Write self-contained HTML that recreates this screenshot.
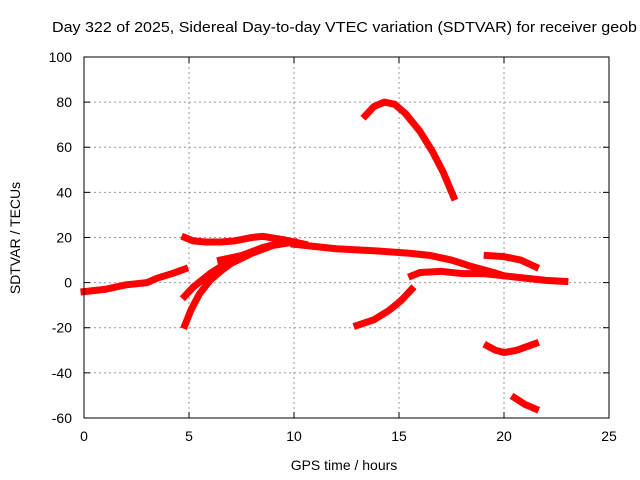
<!DOCTYPE html>
<html><head><meta charset="utf-8"><style>
body{margin:0;background:#fff}
svg{font-family:"Liberation Sans",sans-serif;display:block}
</style></head><body>
<svg id="chart" width="640" height="480">
<text x="52" y="32" font-size="15" textLength="585" lengthAdjust="spacingAndGlyphs">Day 322 of 2025, Sidereal Day-to-day VTEC variation (SDTVAR) for receiver geob</text>
<text x="344" y="470" font-size="14" text-anchor="middle">GPS time / hours</text>
<text x="20" y="238" font-size="14" text-anchor="middle" transform="rotate(-90 20 238)">SDTVAR / TECUs</text>
<g id="grid"></g><g id="series"></g>
<rect x="84" y="57" width="525" height="361" fill="none" stroke="#000" stroke-width="1"/>
</svg>
<script>
const xTicks=[0,5,10,15,20,25];
const yTicks=[-60,-40,-20,0,20,40,60,80,100];
const seg1=[[0,-4],[1,-3],[2,-1],[3,0],[3.5,2],[4.2,4],[4.8,6]];
const seg2=[[4.8,20],[5.2,18.5],[5.8,18],[6.5,18],[7.2,18.5],[8,20],[8.5,20.5],[9.5,19],[10.5,17]];
const seg3=[[10,17],[12,15],[14,14],[15.5,13],[16.5,12],[17.5,10],[18.5,7],[19.5,4.5],[20,3],[21,2],[22,1],[22.9,0.5]];
const seg4=[[4.8,-19],[5.1,-12],[5.5,-5],[6,1],[6.5,5],[7,8.5],[8,13],[9,16.5],[10,18]];
const seg5=[[4.8,-6],[5.2,-2],[5.6,1],[6,4],[6.5,7],[7,9]];
const seg6=[[6.5,10],[7.5,12],[8.5,15.5],[9.5,18]];
const seg7=[[13.4,74],[13.8,78],[14.3,80],[14.8,79],[15.3,75],[16,67],[16.6,58],[17.1,49],[17.6,38]];
const seg8=[[13,-19],[13.8,-16.5],[14.5,-12.5],[15.1,-8],[15.6,-3]];
const seg9=[[15.6,3],[16,4.5],[17,5],[18,4],[19,4],[20,3]];
const seg10=[[19.2,12],[20,11.5],[20.8,10],[21.5,7]];
const seg11=[[19.2,-28],[19.6,-30],[20,-31],[20.6,-30],[21.5,-27]];
const seg12=[[20.5,-51],[21,-54],[21.5,-56]];
const segments=[seg1,seg2,seg3,seg4,seg5,seg6,seg7,seg8,seg9,seg10,seg11,seg12];
const X=h=>84+h*21, Y=v=>282.6-v*361/160;
const NS='http://www.w3.org/2000/svg';
const grid=document.getElementById('grid'), ser=document.getElementById('series');
function mk(t,a,p){const e=document.createElementNS(NS,t);for(const k in a)e.setAttribute(k,a[k]);p.appendChild(e);return e;}
xTicks.forEach(t=>{
 if(t>0&&t<25){const l=mk('line',{x1:X(t),x2:X(t),y1:57,y2:418,stroke:'#999','stroke-dasharray':'2,3'},grid);
 
 }
 const tx=mk('text',{x:X(t),y:441,'font-size':14,'text-anchor':'middle'},grid);tx.textContent=t;
 
 
 mk('line',{x1:X(t),x2:X(t),y1:418,y2:412,stroke:'#000'},grid);
 mk('line',{x1:X(t),x2:X(t),y1:57,y2:63,stroke:'#000'},grid);
});
yTicks.forEach(t=>{
 if(t>-60&&t<100){const l=mk('line',{x1:84,x2:609,y1:Y(t),y2:Y(t),stroke:'#999','stroke-dasharray':'2,3'},grid);
 
 }
 const tx=mk('text',{x:72,y:Y(t)+5,'font-size':14,'text-anchor':'end'},grid);tx.textContent=t;
 
 
 mk('line',{x1:84,x2:90,y1:Y(t),y2:Y(t),stroke:'#000'},grid);
 mk('line',{x1:609,x2:603,y1:Y(t),y2:Y(t),stroke:'#000'},grid);
});
segments.forEach((s,i)=>{
 const p=mk('polyline',{points:s.map(d=>X(d[0])+','+Y(d[1])).join(' '),fill:'none',stroke:'#f00','stroke-width':7,'stroke-linejoin':'round','stroke-linecap':'square'},ser);
 
 
});
</script>
</body></html>
